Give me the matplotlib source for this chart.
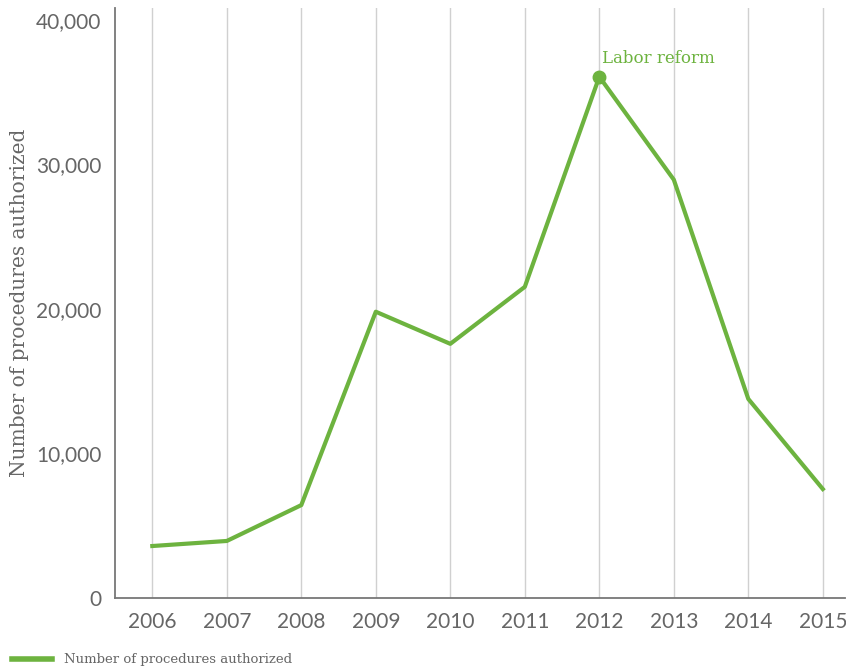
import matplotlib
matplotlib.use("Agg")
import matplotlib.pyplot as plt
from matplotlib.ticker import FuncFormatter

# valores
anios = [2006, 2007, 2008, 2009, 2010, 2011, 2012, 2013, 2014, 2015]
procedimientos = [3600, 3950, 6430, 19800, 17580, 21520, 36050, 28930, 13770, 7540]
etiqueta_serie = "Number of procedures authorized"
nota = "Labor reform"
anio_nota = 2012

verde = "#6db33f"
gris = "#666666"

fig = plt.figure(figsize=(8.46, 6.69), dpi=100)
ax = fig.add_axes([0.136, 0.106, 0.863, 0.882])

ax.plot(anios, procedimientos, color=verde, linewidth=3, solid_joinstyle="round")
i = anios.index(anio_nota)
ax.plot(anios[i], procedimientos[i], "o", color=verde, markersize=9)
ax.annotate(nota, (anios[i], procedimientos[i]), xytext=(2, 7), textcoords="offset points",
            color=verde, fontsize=12, family="DejaVu Serif", va="bottom", ha="left")

ax.set_xlim(2005.5, 2015.3)
ax.set_ylim(0, 40800)
ax.set_xticks(anios)
ax.set_yticks([0, 10000, 20000, 30000, 40000])
ax.yaxis.set_major_formatter(FuncFormatter(lambda v, p: f"{int(v):,}"))
ax.grid(axis="x", color="#d0d0d0", linewidth=1)
ax.set_axisbelow(True)

for s in ["top", "right"]:
    ax.spines[s].set_visible(False)
for s in ["left", "bottom"]:
    ax.spines[s].set_color("#777777")
    ax.spines[s].set_linewidth(1.3)

ax.tick_params(length=0, labelsize=15, labelcolor=gris, pad=10)
for lab in ax.get_xticklabels() + ax.get_yticklabels():
    lab.set_family("Lato")
ax.set_ylabel(etiqueta_serie, fontsize=14.5, color=gris, family="DejaVu Serif", labelpad=5)

# leyenda abajo a la izquierda
fig.lines.append(plt.Line2D([12 / 846, 52 / 846], [10 / 669, 10 / 669], transform=fig.transFigure,
                            color=verde, linewidth=4))
fig.text(64 / 846, 10 / 669, etiqueta_serie, fontsize=9.5, color=gris, family="DejaVu Serif",
         va="center", ha="left")

fig.savefig("out.png", dpi=100)
